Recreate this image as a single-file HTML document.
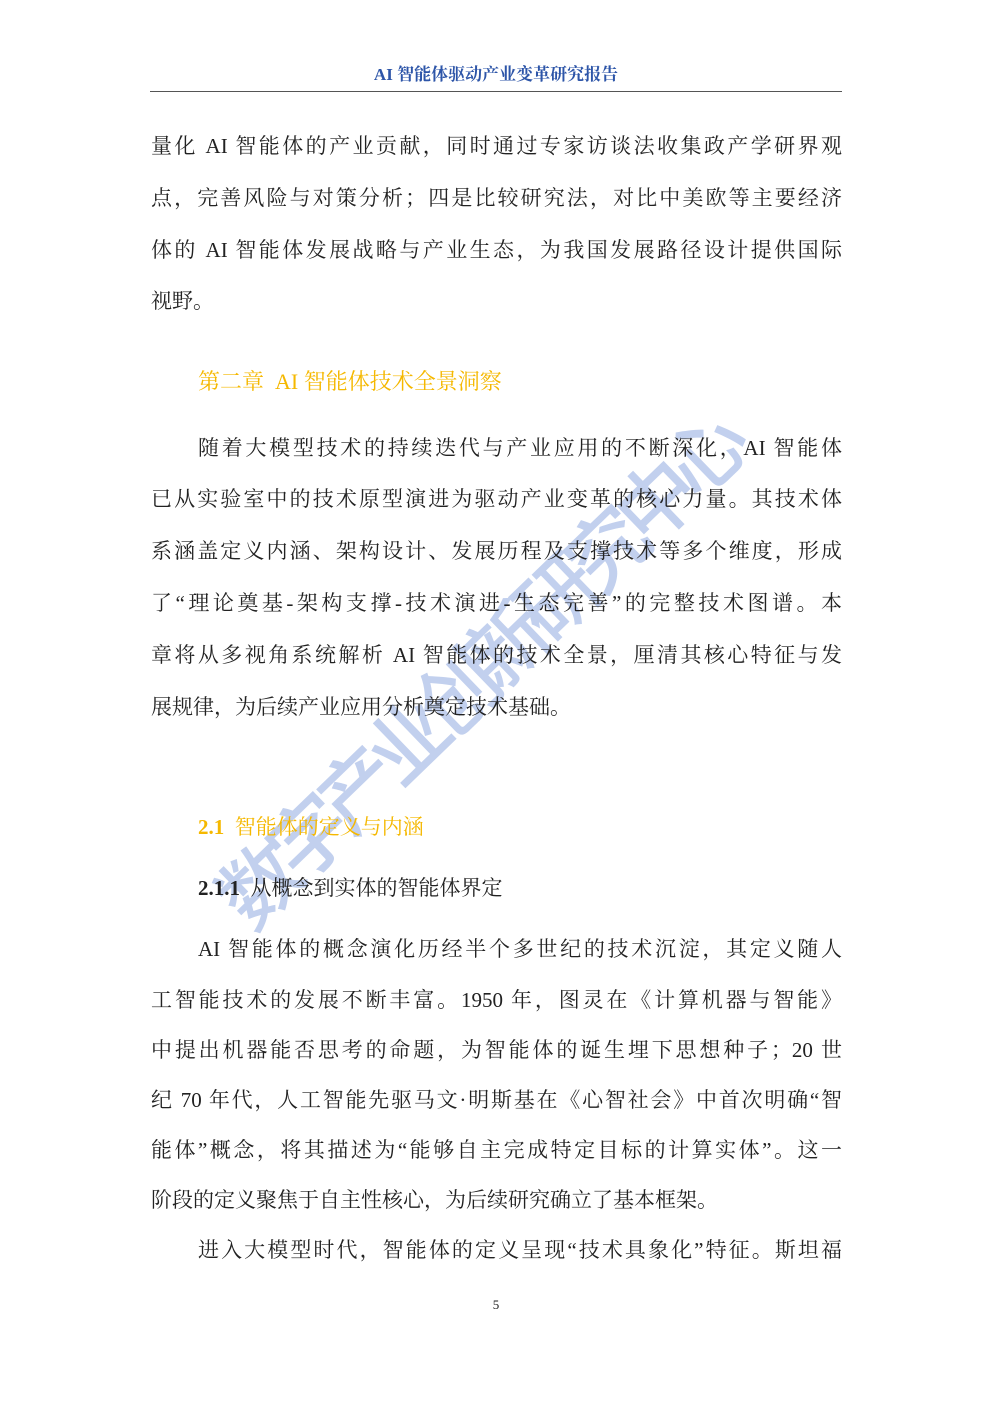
<!DOCTYPE html>
<html><head><meta charset="utf-8"><style>
body{margin:0;width:992px;height:1403px;background:#fff;position:relative;overflow:hidden;font-family:"Liberation Serif","Noto Serif CJK SC",serif;color:#222}
.l{position:absolute;left:151px;width:691px;font-size:21px;line-height:26px;white-space:nowrap;text-align:justify;text-align-last:justify}
.n{text-align-last:left}
.h{position:absolute;color:#f5b800;white-space:nowrap}
.wm{position:absolute;left:200px;top:880px;font-family:"Noto Sans CJK SC",sans-serif;font-size:80px;line-height:80px;font-weight:500;color:#c2d0ee;transform:rotate(-44deg);transform-origin:0 0;white-space:nowrap;letter-spacing:-11px}
</style></head><body>
<div style="position:absolute;top:64px;left:0;width:992px;text-align:center;font-size:17px;font-weight:bold;color:#2d55a8;line-height:22px">AI 智能体驱动产业变革研究报告</div>
<div style="position:absolute;top:91px;left:150px;width:692px;height:1px;background:#555"></div>

<div class="wm">数字产业创新研究中心</div>

<div class="l" style="top:133px">量化 AI 智能体的产业贡献，同时通过专家访谈法收集政产学研界观</div>
<div class="l" style="top:185px">点，完善风险与对策分析；四是比较研究法，对比中美欧等主要经济</div>
<div class="l" style="top:237px">体的 AI 智能体发展战略与产业生态，为我国发展路径设计提供国际</div>
<div class="l n" style="top:288px">视野。</div>

<div class="h" style="left:198px;top:368px;font-size:22px;line-height:28px">第二章&nbsp; AI 智能体技术全景洞察</div>

<div class="l" style="top:435px;left:198px;width:644px">随着大模型技术的持续迭代与产业应用的不断深化，AI 智能体</div>
<div class="l" style="top:486px">已从实验室中的技术原型演进为驱动产业变革的核心力量。其技术体</div>
<div class="l" style="top:538px">系涵盖定义内涵、架构设计、发展历程及支撑技术等多个维度，形成</div>
<div class="l" style="top:590px">了“理论奠基-架构支撑-技术演进-生态完善”的完整技术图谱。本</div>
<div class="l" style="top:642px">章将从多视角系统解析 AI 智能体的技术全景，厘清其核心特征与发</div>
<div class="l n" style="top:694px">展规律，为后续产业应用分析奠定技术基础。</div>

<div class="h" style="left:198px;top:814px;font-size:21px;line-height:26px"><b>2.1</b>&nbsp; 智能体的定义与内涵</div>
<div style="position:absolute;left:198px;top:875px;font-size:21px;line-height:26px;white-space:nowrap"><b>2.1.1</b>&nbsp; 从概念到实体的智能体界定</div>

<div class="l" style="top:936px;left:198px;width:644px">AI 智能体的概念演化历经半个多世纪的技术沉淀，其定义随人</div>
<div class="l" style="top:987px">工智能技术的发展不断丰富。1950 年，图灵在《计算机器与智能》</div>
<div class="l" style="top:1037px">中提出机器能否思考的命题，为智能体的诞生埋下思想种子；20 世</div>
<div class="l" style="top:1087px">纪 70 年代，人工智能先驱马文·明斯基在《心智社会》中首次明确“智</div>
<div class="l" style="top:1137px">能体”概念，将其描述为“能够自主完成特定目标的计算实体”。这一</div>
<div class="l n" style="top:1187px">阶段的定义聚焦于自主性核心，为后续研究确立了基本框架。</div>
<div class="l" style="top:1237px;left:198px;width:644px">进入大模型时代，智能体的定义呈现“技术具象化”特征。斯坦福</div>

<div style="position:absolute;top:1297px;left:0;width:992px;text-align:center;font-size:13px;line-height:16px">5</div>
</body></html>
